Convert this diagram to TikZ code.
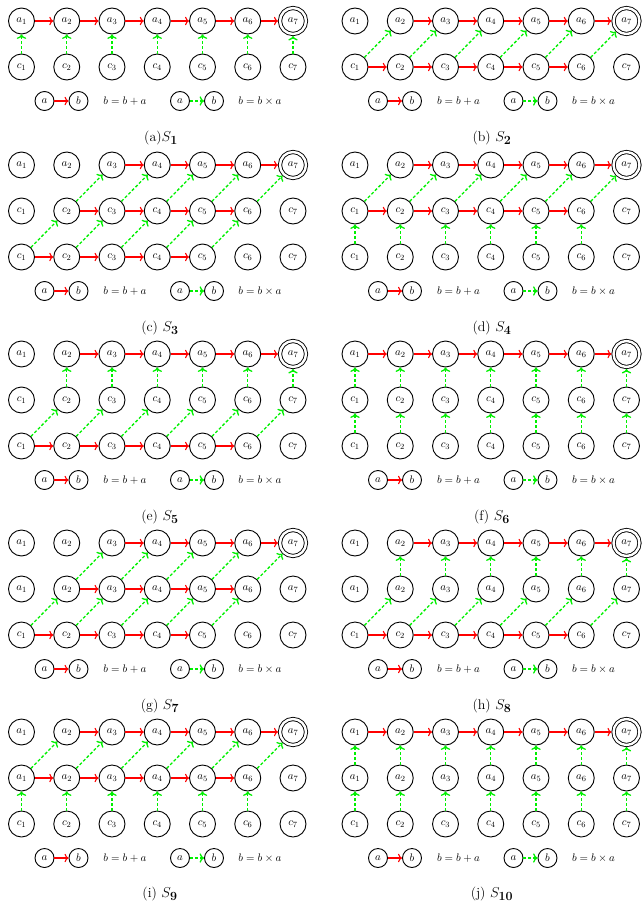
\documentclass[tikz,border=0pt]{standalone}
\usetikzlibrary{arrows.meta}
\definecolor{arred}{RGB}{255,0,0}
\definecolor{argreen}{RGB}{0,240,0}
\newcommand{\toprow}[3]{%
  \foreach \i in {1,...,6} \node[st] (#1-1-\i) at ({#2+21.5+45.25*(\i-1)},#3) {$a_{\i}$};
  \node[st,acc] (#1-1-7) at ({#2+21.5+45.25*6},#3) {$a_{7}$};}
\newcommand{\plainrow}[5]{%
  \foreach \i in {1,...,7} \node[st] (#1-#2-\i) at ({#3+21.5+45.25*(\i-1)},#4) {$#5_{\i}$};}
\newcommand{\redchain}[4]{%
  \foreach \i in {#3,...,#4} {\pgfmathtruncatemacro\j{\i+1}\draw[redarr] (#1-#2-\i) -- (#1-#2-\j);}}
\newcommand{\greenvert}[5]{%
  \foreach \i in {#4,...,#5} {\draw[grarr] (#1-#2-\i) -- (#1-#3-\i);}}
\newcommand{\greendiag}[5]{%
  \foreach \i in {#4,...,#5} {\pgfmathtruncatemacro\j{\i+1}\draw[grarr] (#1-#2-\i) -- (#1-#3-\j);}}
\newcommand{\mylegend}[3]{%
  \node[lg] (#1-la) at ({#2+44.5},#3) {$a$};
  \node[lg] (#1-lb) at ({#2+78.5},#3) {$b$};
  \draw[redarr] (#1-la) -- (#1-lb);
  \node[lgtext] (#1-lt) at ({#2+125},#3) {$b=b+a$};
  \node[lg] (#1-ga) at ({#2+180},#3) {$a$};
  \node[lg] (#1-gb) at ({#2+214},#3) {$b$};
  \draw[grarr] (#1-ga) -- (#1-gb);
  \node[lgtext] (#1-gt) at ({#2+260},#3) {$b=b\times a$};}
\newcommand{\capS}[1]{$S_{\mbox{\fontsize{12.5}{12.5}\selectfont\bfseries #1}}$}
\begin{document}
\begin{tikzpicture}[x=1bp,y=-1bp,
  st/.style={circle,draw,line width=0.9bp,minimum size=26bp,inner sep=0pt,font=\fontsize{11}{12}\selectfont},
  acc/.style={double,double distance=2.4bp,outer sep=2bp},
  lg/.style={circle,draw,line width=0.9bp,minimum size=19bp,inner sep=0pt,font=\fontsize{11}{12}\selectfont},
  redarr/.style={->,draw=arred,line width=1.1bp},
  grarr/.style={->,draw=argreen,line width=1.3bp,dash pattern=on 3bp off 2bp},
  lgtext/.style={font=\fontsize{11}{12}\selectfont},
  captext/.style={font=\fontsize{14}{16}\selectfont}]
\useasboundingbox (0,0) rectangle (643,908);
% (a)
\toprow{a}{0}{21} \plainrow{a}{2}{0}{67}{c}
\redchain{a}{1}{1}{6} \greenvert{a}{2}{1}{1}{7}
\mylegend{a}{0}{101}
\node[captext] (a-cap) at (161,138) {(a)\capS{1}};
% (b)
\toprow{b}{333.5}{21} \plainrow{b}{2}{333.5}{67}{c}
\redchain{b}{1}{2}{6} \redchain{b}{2}{1}{5} \greendiag{b}{2}{1}{1}{6}
\mylegend{b}{333.5}{101}
\node[captext] (b-cap) at (492,138) {(b) \capS{2}};
% (c)
\toprow{c}{0}{165} \plainrow{c}{2}{0}{211}{c} \plainrow{c}{3}{0}{257}{c}
\redchain{c}{1}{3}{6} \redchain{c}{2}{2}{5} \redchain{c}{3}{1}{4}
\greendiag{c}{2}{1}{2}{6} \greendiag{c}{3}{2}{1}{5}
\mylegend{c}{0}{291}
\node[captext] (c-cap) at (160,328) {(c) \capS{3}};
% (d)
\toprow{d}{333.5}{165} \plainrow{d}{2}{333.5}{211}{c} \plainrow{d}{3}{333.5}{257}{c}
\redchain{d}{1}{2}{6} \redchain{d}{2}{1}{5}
\greendiag{d}{2}{1}{1}{6} \greenvert{d}{3}{2}{1}{6}
\mylegend{d}{333.5}{291}
\node[captext] (d-cap) at (492,328) {(d) \capS{4}};
% (e)
\toprow{e}{0}{354} \plainrow{e}{2}{0}{400}{c} \plainrow{e}{3}{0}{446}{c}
\redchain{e}{1}{2}{6} \greenvert{e}{2}{1}{2}{7} \redchain{e}{3}{1}{5} \greendiag{e}{3}{2}{1}{6}
\mylegend{e}{0}{480}
\node[captext] (e-cap) at (160,517) {(e) \capS{5}};
% (f)
\toprow{f}{333.5}{354} \plainrow{f}{2}{333.5}{400}{c} \plainrow{f}{3}{333.5}{446}{c}
\redchain{f}{1}{1}{6} \greenvert{f}{2}{1}{1}{7} \greenvert{f}{3}{2}{1}{7}
\mylegend{f}{333.5}{480}
\node[captext] (f-cap) at (492,517) {(f) \capS{6}};
% (g)
\toprow{g}{0}{543} \plainrow{g}{2}{0}{589}{a} \plainrow{g}{3}{0}{635}{c}
\redchain{g}{1}{3}{6} \redchain{g}{2}{2}{5} \redchain{g}{3}{1}{4}
\greendiag{g}{2}{1}{2}{6} \greendiag{g}{3}{2}{1}{5}
\mylegend{g}{0}{669}
\node[captext] (g-cap) at (160,706) {(g) \capS{7}};
% (h)
\toprow{h}{333.5}{543} \plainrow{h}{2}{333.5}{589}{a} \plainrow{h}{3}{333.5}{635}{c}
\redchain{h}{1}{2}{6} \greenvert{h}{2}{1}{2}{7} \redchain{h}{3}{1}{5} \greendiag{h}{3}{2}{1}{6}
\mylegend{h}{333.5}{669}
\node[captext] (h-cap) at (492,706) {(h) \capS{8}};
% (i)
\toprow{i}{0}{732} \plainrow{i}{2}{0}{778}{a} \plainrow{i}{3}{0}{824}{c}
\redchain{i}{1}{2}{6} \redchain{i}{2}{1}{5}
\greendiag{i}{2}{1}{1}{6} \greenvert{i}{3}{2}{1}{6}
\mylegend{i}{0}{858}
\node[captext] (i-cap) at (160,894) {(i) \capS{9}};
% (j)
\toprow{j}{333.5}{732} \plainrow{j}{2}{333.5}{778}{a} \plainrow{j}{3}{333.5}{824}{c}
\redchain{j}{1}{1}{6} \greenvert{j}{2}{1}{1}{7} \greenvert{j}{3}{2}{1}{7}
\mylegend{j}{333.5}{858}
\node[captext] (j-cap) at (492,894) {(j) \capS{10}};
\end{tikzpicture}
\end{document}
